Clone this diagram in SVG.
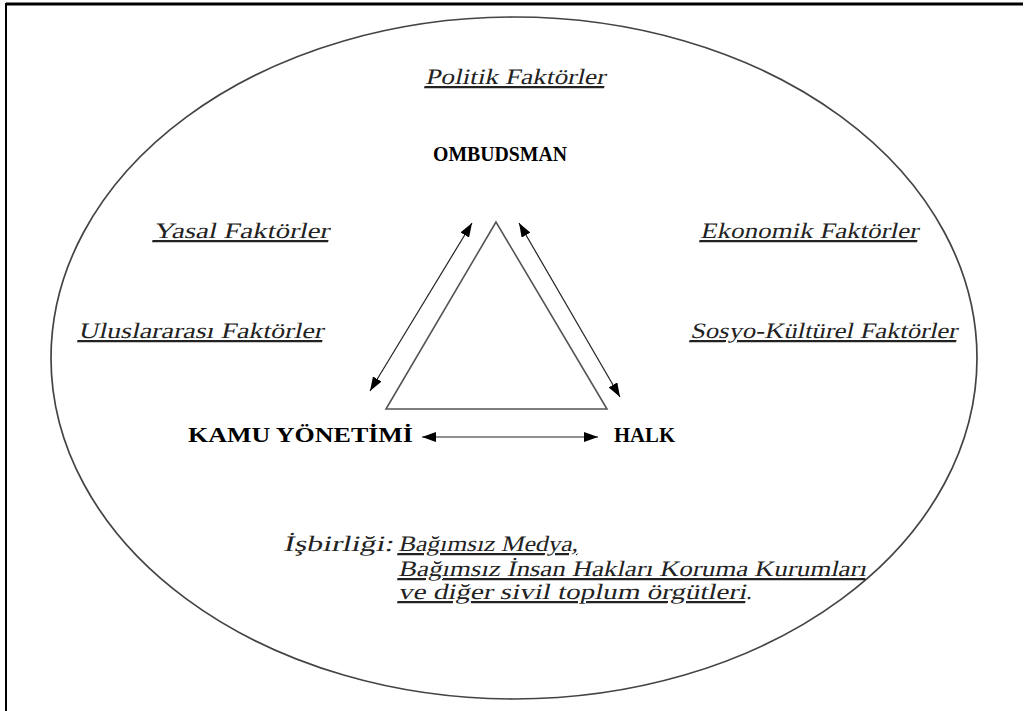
<svg xmlns="http://www.w3.org/2000/svg" width="1024" height="711" viewBox="0 0 1024 711">
<defs>
<marker id="ah" viewBox="0 0 14 10" refX="14" refY="5" markerWidth="14" markerHeight="10" markerUnits="userSpaceOnUse" orient="auto-start-reverse">
<path d="M0,0 L14,5 L0,10 Z" fill="#000"/>
</marker>
</defs>
<style>
.it{font-family:"Liberation Serif","Times New Roman",serif;font-size:22px;fill:#222;text-decoration:underline}
.bd{font-family:"Liberation Serif","Times New Roman",serif;font-weight:bold;font-size:21px;fill:#000}
.pl{font-family:"Liberation Serif","Times New Roman",serif;font-size:22px;fill:#222}
.conn{stroke:#222;stroke-width:1.2;fill:none}
</style>
<rect width="1024" height="711" fill="#fff"/>
<g id="frame">
<line x1="6" y1="4" x2="1023" y2="4" stroke="#000" stroke-width="3"/>
<line x1="6" y1="3" x2="6" y2="711" stroke="#000" stroke-width="2"/>
</g>
<g id="ellipse">
<ellipse cx="514" cy="358" rx="463" ry="341" fill="none" stroke="#444" stroke-width="1.7"/>
</g>
<g id="triangle">
<polygon points="496,222 386,409 607,409" fill="#fff" stroke="#555" stroke-width="1.6"/>
</g>
<g id="connectors">
<line class="conn" x1="370" y1="391" x2="472" y2="223" marker-start="url(#ah)" marker-end="url(#ah)"/>
<line class="conn" x1="519" y1="223" x2="620" y2="397" marker-start="url(#ah)" marker-end="url(#ah)"/>
<line class="conn" x1="422" y1="437" x2="598" y2="437" marker-start="url(#ah)" marker-end="url(#ah)"/>
</g>
<g id="ombudsman"><text class="bd" x="433" y="161" textLength="134" lengthAdjust="spacingAndGlyphs">OMBUDSMAN</text></g>
<g id="kamu"><text class="bd" x="188" y="442" textLength="225" lengthAdjust="spacingAndGlyphs">KAMU YÖNETİMİ</text></g>
<g id="halk"><text class="bd" x="614" y="442" textLength="61" lengthAdjust="spacingAndGlyphs">HALK</text></g>
<g id="politik"><text class="it" transform="translate(425,84) skewX(-13)" textLength="180" lengthAdjust="spacingAndGlyphs">Politik Faktörler</text></g>
<g id="yasal"><text class="it" transform="translate(153,238) skewX(-13)" textLength="176" lengthAdjust="spacingAndGlyphs">Yasal Faktörler</text></g>
<g id="uluslararasi"><text class="it" transform="translate(78,338) skewX(-13)" textLength="245" lengthAdjust="spacingAndGlyphs">Uluslararası Faktörler</text></g>
<g id="ekonomik"><text class="it" transform="translate(700,238) skewX(-13)" textLength="218" lengthAdjust="spacingAndGlyphs">Ekonomik Faktörler</text></g>
<g id="sosyo"><text class="it" transform="translate(690,338) skewX(-13)" textLength="267" lengthAdjust="spacingAndGlyphs">Sosyo-Kültürel Faktörler</text></g>
<g id="isbirligi">
<text class="pl" transform="translate(283,551) skewX(-13)" textLength="110" lengthAdjust="spacingAndGlyphs">İşbirliği:</text>
<text class="it" transform="translate(398,551) skewX(-13)" textLength="180" lengthAdjust="spacingAndGlyphs">Bağımsız Medya,</text>
<text class="it" transform="translate(398,576) skewX(-13)" textLength="468" lengthAdjust="spacingAndGlyphs">Bağımsız İnsan Hakları Koruma Kurumları</text>
<text class="it" transform="translate(398,599) skewX(-13)" textLength="348" lengthAdjust="spacingAndGlyphs">ve diğer sivil toplum örgütleri</text>
<text class="pl" transform="translate(746,599) skewX(-13)">.</text>
</g>
</svg>
